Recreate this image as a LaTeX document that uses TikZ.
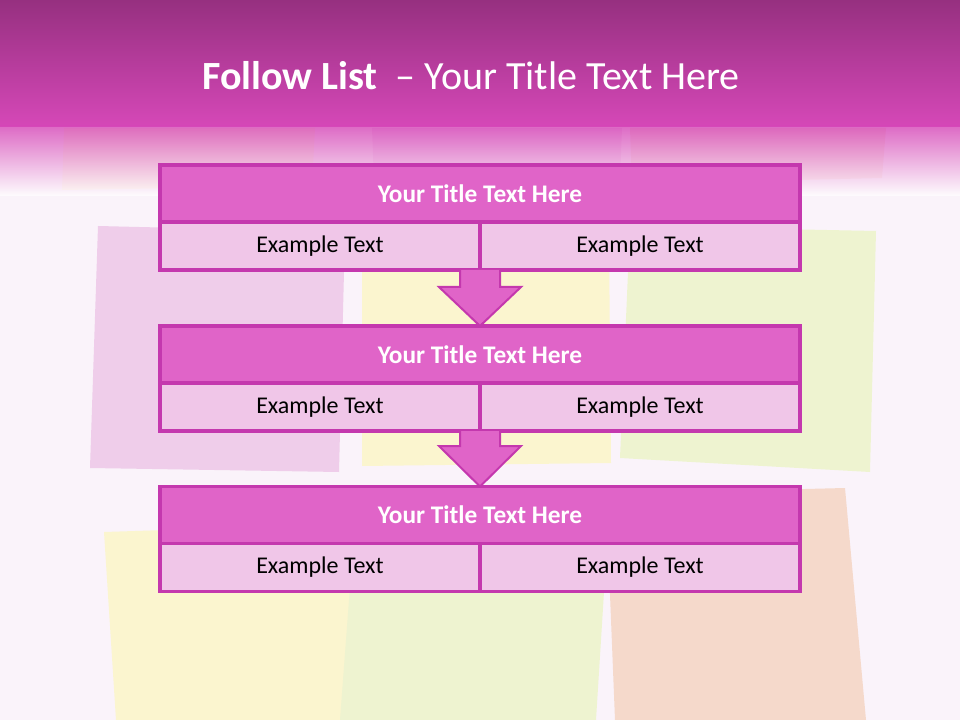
\documentclass[tikz,border=0pt]{standalone}
\usepackage{fontspec}
\setmainfont{Carlito}
\usetikzlibrary{positioning, calc}

\definecolor{bgwhite}{HTML}{FAF3FA}
\definecolor{bandtop}{HTML}{963080}
\definecolor{bandpink}{HTML}{D648B8}
\definecolor{hdrfill}{HTML}{E064C8}
\definecolor{hdrline}{HTML}{C438AE}
\definecolor{cellfill}{HTML}{F0C6E8}
\definecolor{notepink}{HTML}{EFCDEA}
\definecolor{noteyellow}{HTML}{FBF5CF}
\definecolor{notegreen}{HTML}{EEF3D0}
\definecolor{notepeach}{HTML}{F5D9CB}

\begin{document}
\begin{tikzpicture}[x=0.75pt, y=-0.75pt,
      hdr/.style={draw=hdrline, line width=2.3pt, fill=hdrfill, outer sep=0pt,
                  minimum width=480pt, minimum height=42.75pt, inner sep=0pt,
                  text=white, font=\bfseries\fontsize{19}{23}\selectfont},
      cell/.style={draw=hdrline, line width=2.3pt, fill=cellfill, outer sep=0pt,
                   minimum width=240pt, minimum height=36pt, inner sep=0pt,
                   font=\fontsize{18}{22}\selectfont},
      blockarrow/.style={draw=hdrline, line width=1.5pt, fill=hdrfill, line join=miter},
      note/.style={draw=none}]

    \useasboundingbox (0,0) rectangle (960,720);
    \fill[bgwhite] (0,0) rectangle (960,720);

    % --- sticky notes behind the list ---
    \fill[note, notepink]   (98,226) -- (345,232) -- (339,472) -- (90,468) -- cycle;
    \fill[note, noteyellow] (362,240) -- (609,240) -- (611,463) -- (362,466) -- cycle;
    \fill[note, notegreen]  (630,226) -- (876,231) -- (870,472) -- (620,458) -- cycle;
    \fill[note, noteyellow] (104,532) -- (352,524) -- (352,720) -- (116,720) -- cycle;
    \fill[note, notegreen]  (352,560) -- (606,560) -- (596,720) -- (340,720) -- cycle;
    \fill[note, notepeach]  (606,494) -- (845,488) -- (866,720) -- (615,720) -- cycle;
    % top row, mostly hidden by the title band
    \fill[note, noteyellow] (64,128) -- (315,128) -- (312,186) -- (62,190) -- cycle;
    \fill[note, notepink]   (372,128) -- (622,128) -- (620,180) -- (374,182) -- cycle;
    \fill[note, notepeach]  (630,128) -- (886,128) -- (882,178) -- (632,184) -- cycle;

    % --- title band ---
    \shade[top color=bandtop, bottom color=bandpink] (0,0) rectangle (960,127);
    \shade[top color=bandpink, bottom color=white, opacity=0.8] (0,126) rectangle (960,196);
    \node[text=white, font=\fontsize{30}{36}\selectfont] (title) at (471,76)
        {\textbf{Follow List}\ \ – Your Title Text Here};

    % --- step 1 ---
    \node[hdr] (t1) at (480,193.5) {Your Title Text Here};
    \node[cell, below right=0pt of t1.south west] (l1) {Example Text};
    \node[cell, below left=0pt of t1.south east]  (r1) {Example Text};

    % --- step 2 ---
    \node[hdr] (t2) at (480,354.5) {Your Title Text Here};
    \node[cell, below right=0pt of t2.south west] (l2) {Example Text};
    \node[cell, below left=0pt of t2.south east]  (r2) {Example Text};

    % --- step 3 ---
    \node[hdr] (t3) at (480,515) {Your Title Text Here};
    \node[cell, below right=0pt of t3.south west] (l3) {Example Text};
    \node[cell, below left=0pt of t3.south east]  (r3) {Example Text};

    % --- block arrows between the steps ---
    \draw[blockarrow] ($(l1.south east)+(-20,0)$) -- ($(l1.south east)+(-20,17)$)
        -- ($(l1.south east)+(-41,17)$) -- (t2.north) -- ($(l1.south east)+(41,17)$)
        -- ($(l1.south east)+(20,17)$) -- ($(l1.south east)+(20,0)$);
    \draw[blockarrow] ($(l2.south east)+(-20,0)$) -- ($(l2.south east)+(-20,15)$)
        -- ($(l2.south east)+(-41,15)$) -- (t3.north) -- ($(l2.south east)+(41,15)$)
        -- ($(l2.south east)+(20,15)$) -- ($(l2.south east)+(20,0)$);

\end{tikzpicture}
\end{document}
